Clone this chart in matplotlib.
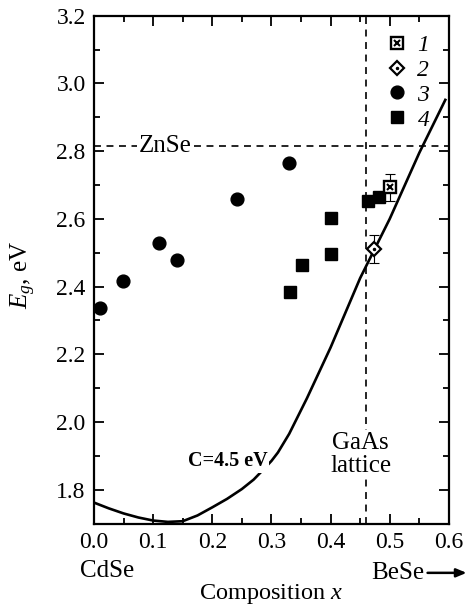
import numpy as np
import matplotlib
matplotlib.use("Agg")
import matplotlib.pyplot as plt
from matplotlib.ticker import MultipleLocator, FormatStrFormatter

plt.rcParams['font.family'] = ['Liberation Serif', 'DejaVu Serif']
plt.rcParams['mathtext.fontset'] = 'custom'
plt.rcParams['mathtext.rm'] = 'Liberation Serif'
plt.rcParams['mathtext.it'] = 'Liberation Serif:italic'
plt.rcParams['mathtext.bf'] = 'Liberation Serif:bold'
plt.rcParams['lines.scale_dashes'] = False

# ---- data ----
# series 3: filled circles
x3 = [0.01, 0.049, 0.11, 0.14, 0.242, 0.33]
y3 = [2.336, 2.417, 2.529, 2.48, 2.658, 2.766]
# series 4: filled squares
x4 = [0.332, 0.352, 0.40, 0.40, 0.463, 0.482]
y4 = [2.383, 2.464, 2.495, 2.603, 2.653, 2.665]
# series 1: crossed box with error bar
x1 = [0.50]
y1 = [2.694]
e1 = [0.04]
# series 2: open diamond with error bar
x2 = [0.474]
y2 = [2.512]
e2 = [0.041]
# bowing curve, C = 4.5 eV
xc = [0.0, 0.025, 0.05, 0.075, 0.10, 0.125, 0.15, 0.175, 0.20, 0.225, 0.25,
      0.27, 0.285, 0.30, 0.311, 0.33, 0.36, 0.40, 0.45, 0.50, 0.55, 0.595]
yc = [1.762, 1.745, 1.730, 1.718, 1.709, 1.705, 1.707, 1.724, 1.748, 1.773,
      1.802, 1.83, 1.857, 1.885, 1.91, 1.965, 2.07, 2.22, 2.425, 2.60, 2.795, 2.955]
znse_gap = 2.816
gaas_x = 0.46
legend_labels = ['1', '2', '3', '4']

fig = plt.figure(figsize=(4.70, 6.06), dpi=100)
ax = fig.add_axes([0.2, 0.136, 0.755, 0.838])

ax.set_xlim(0.0, 0.6)
ax.set_ylim(1.7, 3.2)

# reference lines
ax.axhline(znse_gap, color='black', lw=1.2, dashes=(5, 4), zorder=1)
ax.axvline(gaas_x, color='black', lw=1.2, dashes=(5, 4), zorder=1)

# curve
ax.plot(xc, yc, color='black', lw=1.9, zorder=2, solid_capstyle='butt')

# data
h3, = ax.plot(x3, y3, 'o', color='black', ms=9.2, zorder=4)
h4, = ax.plot(x4, y4, 's', color='black', ms=8.6, zorder=4)
ax.errorbar(x1, y1, yerr=e1, fmt='none', ecolor='black', elinewidth=0.8,
            capsize=3.5, capthick=0.8, zorder=3)
h1a, = ax.plot(x1, y1, 's', mfc='white', mec='black', mew=1.7, ms=8.4, zorder=5)
h1b, = ax.plot(x1, y1, 'x', color='black', mew=1.5, ms=5.0, zorder=6)
ax.errorbar(x2, y2, yerr=e2, fmt='none', ecolor='black', elinewidth=0.8,
            capsize=3.5, capthick=0.8, zorder=3)
h2a, = ax.plot(x2, y2, 'D', mfc='white', mec='black', mew=1.6, ms=6.8, zorder=5)
h2b, = ax.plot(x2, y2, '.', color='black', ms=3.0, zorder=6)

# text annotations
ax.text(0.12, znse_gap, 'ZnSe', ha='center', va='center', fontsize=18,
        bbox=dict(facecolor='white', edgecolor='none', pad=1.0), zorder=3)
ax.text(0.226, 1.884, 'C=4.5 eV', ha='center', va='center', fontsize=14.5,
        fontweight='bold', bbox=dict(facecolor='white', edgecolor='none', pad=1.2), zorder=3)
ax.text(0.451, 1.905, 'GaAs\nlattice', ha='center', va='center', fontsize=18,
        linespacing=1.05, bbox=dict(facecolor='white', edgecolor='none', pad=1.0), zorder=3)

# legend
leg = ax.legend([(h1a, h1b), (h2a, h2b), h3, h4], legend_labels,
                loc='upper right', bbox_to_anchor=(0.945, 0.963),
                frameon=False, prop={'style': 'italic', 'size': 17},
                handlelength=0.8, handletextpad=0.45, labelspacing=0.14,
                borderpad=0.0, borderaxespad=0.0, numpoints=1)

# ticks
ax.xaxis.set_major_locator(MultipleLocator(0.1))
ax.xaxis.set_minor_locator(MultipleLocator(0.05))
ax.yaxis.set_major_locator(MultipleLocator(0.2))
ax.yaxis.set_minor_locator(MultipleLocator(0.1))
ax.xaxis.set_major_formatter(FormatStrFormatter('%.1f'))
ax.yaxis.set_major_formatter(FormatStrFormatter('%.1f'))
ax.tick_params(which='both', direction='in', top=True, right=True, width=1.3)
ax.tick_params(which='major', length=7.5, labelsize=17, pad=6,
               labelfontfamily='Liberation Serif')
ax.tick_params(which='minor', length=4.5)
for s in ax.spines.values():
    s.set_linewidth(1.6)

# axis labels
ax.text(-0.2, 0.49, r'$E_g$, eV', rotation=90, ha='center', va='center',
        fontsize=18, transform=ax.transAxes)
ax.text(0.5, -0.139, r'Composition $x$', ha='center', va='center',
        fontsize=17.5, transform=ax.transAxes)
ax.text(-0.04, -0.094, 'CdSe', ha='left', va='center', fontsize=18,
        transform=ax.transAxes)
ax.text(0.78, -0.097, 'BeSe', ha='left', va='center', fontsize=18,
        transform=ax.transAxes)
ax.annotate('', xy=(1.05, -0.097), xytext=(0.94, -0.097),
            xycoords='axes fraction', textcoords='axes fraction',
            arrowprops=dict(arrowstyle='-|>,head_length=0.6,head_width=0.25',
                            color='black', lw=1.8, shrinkA=0, shrinkB=0),
            annotation_clip=False)

fig.savefig('out.png', dpi=100)
